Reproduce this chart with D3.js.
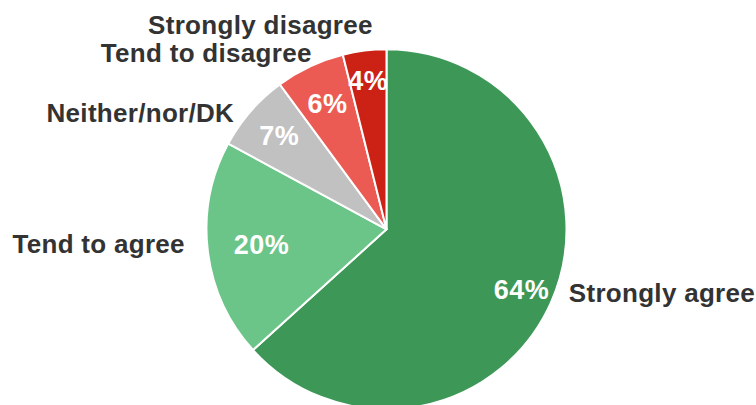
<!DOCTYPE html>
<html>
<head>
<meta charset="utf-8">
<script src="https://cdn.jsdelivr.net/npm/d3@7"></script>
<style>
  html, body { margin: 0; padding: 0; background: #fff; }
  svg { display: block; }
</style>
</head>
<body>
<svg id="chart" width="756" height="405"></svg>
<script>
// ---- data ----
const categories = ["Strongly agree", "Tend to agree", "Neither/nor/DK", "Tend to disagree", "Strongly disagree"];
const values = [63.3, 19.6, 7.0, 6.2, 3.9];
const pctLabels = ["64%", "20%", "7%", "6%", "4%"];
const colors = ["#3d9857", "#6cc588", "#c1c1c1", "#ec5b53", "#cc2216"];

// ---- layout config ----
const W = 756, H = 405;
const cx = 386.5, cy = 229.3, R = 180;
const pctRadius = [0.82, 0.70, 0.79, 0.77, 0.83];
const labelNudge = [[5, -15.3], [-9, -8.1], [-6, 10.6], [7.8, -1.2], [10, -11.7]];

const svg = d3.select("#chart");
const g = svg.append("g").attr("transform", `translate(${cx},${cy})`);

const pie = d3.pie().sort(null).value(d => d.v);
const data = categories.map((c, i) => ({ c, v: values[i], p: pctLabels[i], i }));
const arcs = pie(data);
const arc = d3.arc().innerRadius(0).outerRadius(R);

g.selectAll("path.slice")
  .data(arcs)
  .join("path")
  .attr("class", "slice")
  .attr("d", arc)
  .attr("fill", d => colors[d.data.i])
  .attr("stroke", "#fff")
  .attr("stroke-width", 2)
  .attr("stroke-linejoin", "round");

const mid = d => (d.startAngle + d.endAngle) / 2;

// percentage labels inside
g.selectAll("text.pct")
  .data(arcs)
  .join("text")
  .attr("class", "pct")
  .attr("x", d => Math.sin(mid(d)) * R * pctRadius[d.data.i])
  .attr("y", d => -Math.cos(mid(d)) * R * pctRadius[d.data.i])
  .attr("dy", "0.35em")
  .attr("text-anchor", "middle")
  .attr("font-family", "'Liberation Sans', Arial, sans-serif")
  .attr("font-weight", "bold")
  .attr("font-size", 27)
  .attr("letter-spacing", 0.5)
  .attr("fill", "#fff")
  .text(d => d.data.p);

// category labels outside
const off = R + 14;
g.selectAll("text.cat")
  .data(arcs)
  .join("text")
  .attr("class", "cat")
  .attr("x", d => Math.sin(mid(d)) * off + labelNudge[d.data.i][0])
  .attr("y", d => -Math.cos(mid(d)) * off + labelNudge[d.data.i][1])
  .attr("dy", "0.35em")
  .attr("text-anchor", d => Math.sin(mid(d)) >= 0 ? "start" : "end")
  .attr("font-family", "'Liberation Sans', Arial, sans-serif")
  .attr("font-weight", "bold")
  .attr("font-size", 26)
  .attr("letter-spacing", 0.3)
  .attr("fill", "#333333")
  .text(d => d.data.c);
</script>
</body>
</html>
